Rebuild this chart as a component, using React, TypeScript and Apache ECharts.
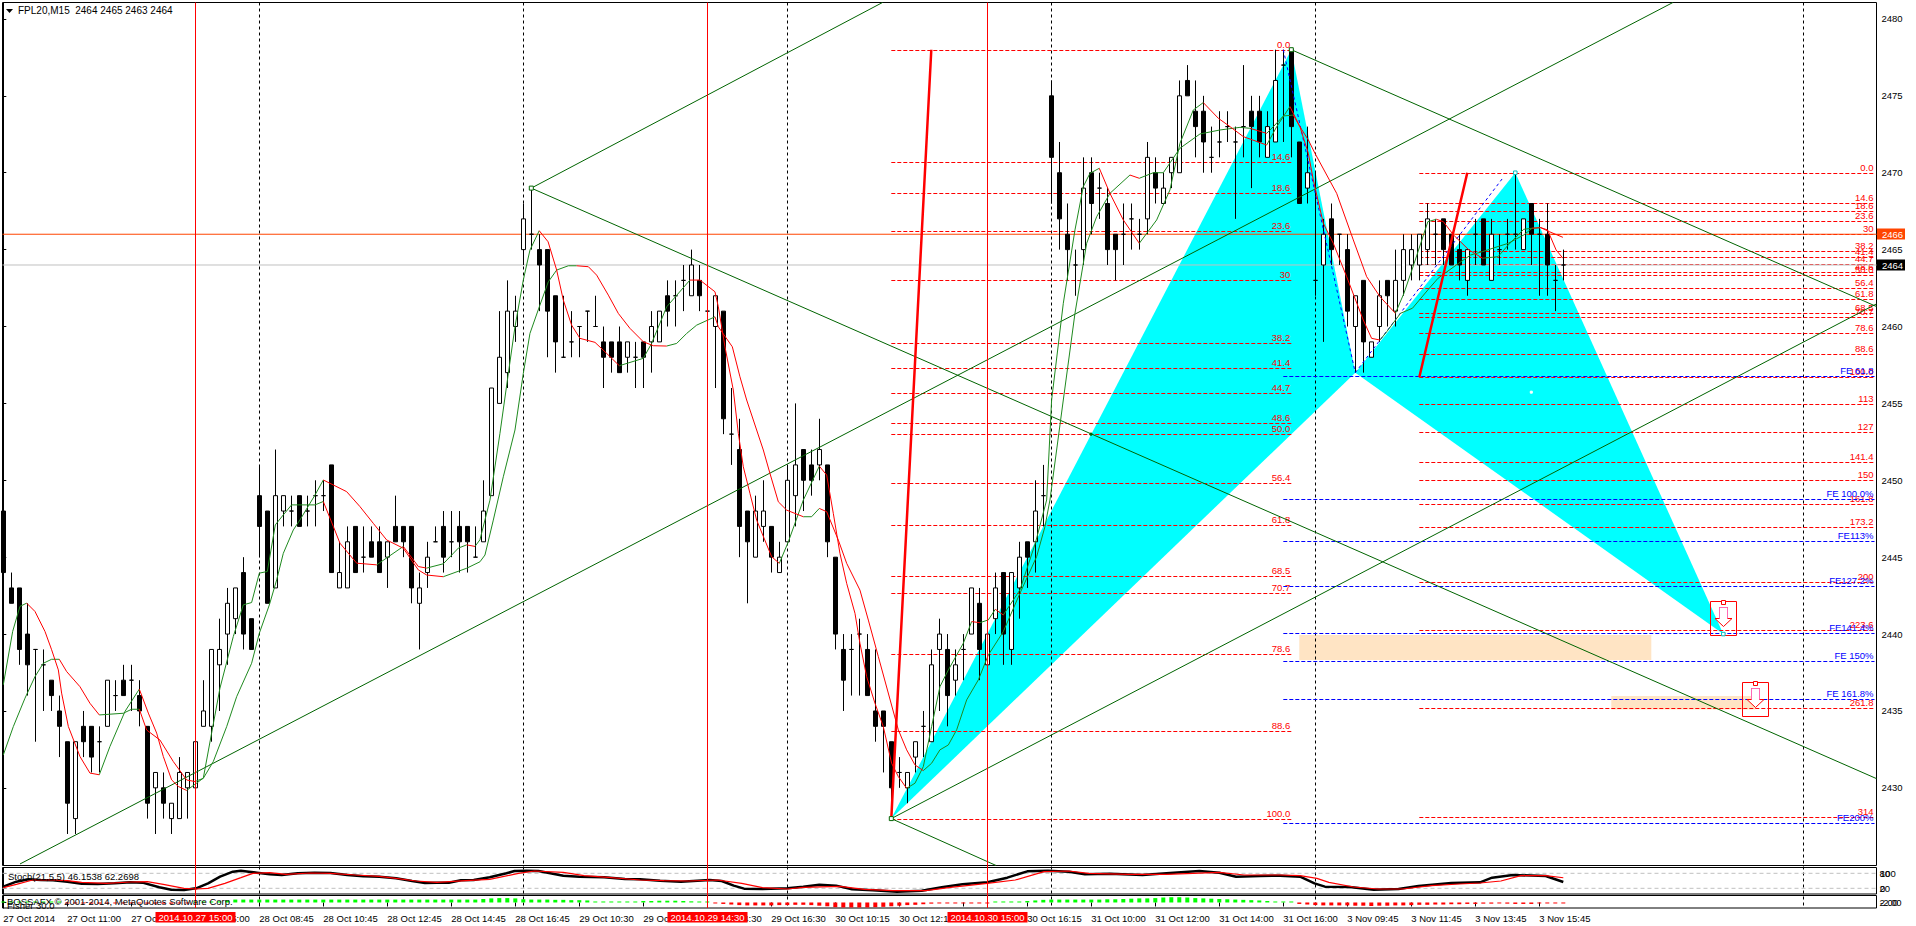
import React, { useEffect, useRef } from "react";
import * as echarts from "echarts";

const FONT = '"Liberation Sans", Arial, sans-serif';

// OHLC bars, index = bar number: [open, high, low, close]
const candles: number[][] = [
[2448,2448,2443,2444],[2443,2444,2442,2442],[2443,2443,2438,2439],[2440,2442,2436,2438],[2439,2439,2433,2439],[2438,2439,2435,2438],[2437,2437,2435,2436],[2435,2436,2432,2434],
[2433,2433,2427,2429],[2428,2433,2427,2433],[2434,2435,2432,2433],[2434,2434,2431,2432],[2433,2434,2431,2433],[2434,2437,2434,2437],[2436,2437,2435,2436],[2437,2438,2436,2436],
[2437,2438,2435,2437],[2436,2437,2434,2435],[2434,2434,2428,2429],[2430,2431,2427,2431],[2430,2431,2428,2429],[2428,2429,2427,2429],[2428,2432,2428,2431],[2430,2431,2428,2431],
[2430,2433,2430,2433],[2434,2437,2434,2435],[2434,2439,2433,2439],[2438,2441,2435,2439],[2440,2443,2438,2442],[2441,2443,2440,2443],[2444,2445,2439,2440],[2441,2441,2439,2439],
[2449,2451,2445,2447],[2448,2448,2442,2442],[2443,2452,2443,2449],[2448,2449,2447,2449],[2448,2449,2447,2448],[2449,2449,2447,2447],[2448,2449,2447,2448],[2449,2450,2447,2449],
[2449,2450,2448,2449],[2451,2451,2444,2444],[2443,2446,2443,2444],[2443,2447,2443,2446],[2447,2447,2444,2444],[2445,2447,2444,2445],[2446,2447,2445,2445],[2446,2447,2444,2444],
[2445,2446,2443,2446],[2447,2449,2446,2446],[2447,2447,2445,2446],[2447,2447,2442,2443],[2442,2444,2439,2443],[2444,2446,2443,2445],[2446,2447,2446,2446],[2447,2448,2444,2445],
[2446,2448,2445,2446],[2447,2448,2444,2446],[2447,2447,2444,2446],[2445,2447,2445,2445],[2446,2450,2446,2448],[2449,2456,2449,2456],[2455,2461,2455,2458],[2457,2463,2456,2461],
[2460,2462,2459,2461],[2465,2468,2464,2467],[2466,2469,2465,2466],[2465,2466,2461,2464],[2465,2465,2458,2461],[2462,2462,2457,2459],[2458,2462,2458,2458],[2459,2461,2458,2459],
[2460,2460,2458,2460],[2461,2461,2459,2461],[2460,2462,2460,2460],[2459,2460,2456,2458],[2459,2459,2457,2458],[2459,2460,2457,2457],[2458,2459,2457,2459],[2458,2459,2456,2458],
[2459,2459,2456,2458],[2459,2461,2457,2460],[2459,2461,2459,2461],[2462,2463,2460,2461],[2462,2463,2460,2462],[2463,2464,2461,2463],[2462,2465,2462,2464],[2463,2464,2461,2462],
[2461,2462,2461,2461],[2460,2462,2456,2462],[2461,2461,2453,2454],[2453,2456,2451,2453],[2452,2454,2445,2447],[2448,2448,2442,2446],[2445,2449,2445,2448],[2447,2450,2446,2448],
[2447,2447,2444,2445],[2444,2446,2444,2445],[2446,2451,2446,2450],[2449,2455,2447,2451],[2452,2452,2448,2450],[2451,2452,2449,2450],[2451,2454,2450,2452],[2451,2451,2445,2446],
[2445,2445,2439,2440],[2439,2440,2435,2437],[2439,2440,2436,2439],[2440,2441,2436,2440],[2439,2440,2436,2436],[2435,2439,2433,2434],[2435,2435,2431,2434],[2433,2433,2428,2430],
[2431,2432,2430,2431],[2430,2431,2429,2431],[2432,2433,2431,2433],[2434,2435,2432,2434],[2433,2439,2433,2438],[2439,2441,2435,2440],[2439,2440,2434,2436],[2437,2439,2436,2438],
[2439,2440,2437,2439],[2440,2443,2440,2443],[2442,2443,2437,2439],[2438,2440,2438,2440],[2441,2444,2440,2443],[2444,2444,2438,2440],[2439,2444,2438,2444],[2443,2446,2441,2445],
[2446,2446,2443,2445],[2446,2450,2444,2448],[2449,2451,2447,2449],[2475,2476,2468,2471],[2470,2472,2465,2467],[2466,2468,2463,2465],[2464,2465,2462,2464],[2465,2471,2464,2469],
[2470,2471,2466,2468],[2469,2470,2467,2469],[2468,2469,2464,2465],[2466,2466,2463,2465],[2466,2468,2464,2466],[2467,2468,2465,2467],[2466,2467,2465,2466],[2467,2472,2466,2471],
[2470,2471,2468,2469],[2468,2470,2468,2469],[2470,2471,2469,2471],[2470,2476,2470,2475],[2476,2477,2475,2475],[2474,2476,2471,2473],[2474,2475,2470,2472],[2471,2473,2470,2471],
[2472,2474,2471,2472],[2473,2474,2472,2473],[2472,2473,2467,2472],[2473,2477,2471,2473],[2474,2475,2469,2473],[2474,2475,2471,2472],[2471,2474,2471,2473],[2472,2478,2472,2476],
[2477,2478,2472,2477],[2478,2478,2471,2473],[2472,2472,2468,2468],[2469,2473,2468,2470],[2463,2470,2462,2463],[2464,2467,2459,2466],[2467,2468,2464,2465],[2466,2466,2464,2466],
[2465,2466,2460,2461],[2460,2462,2457,2462],[2463,2463,2457,2459],[2458,2459,2458,2459],[2460,2463,2459,2462],[2463,2463,2460,2462],[2461,2465,2460,2463],[2463,2466,2462,2465],
[2464,2466,2463,2465],[2464,2466,2463,2466],[2465,2468,2464,2467],[2466,2467,2464,2466],[2467,2467,2464,2465],[2466,2466,2464,2464],[2465,2466,2463,2464],[2463,2465,2462,2465],
[2466,2467,2464,2466],[2467,2467,2464,2464],[2463,2467,2463,2466],[2465,2466,2464,2465],[2466,2467,2465,2466],[2466,2470,2465,2466],[2465,2467,2465,2467],[2468,2468,2464,2466],
[2466,2467,2462,2466],[2466,2468,2462,2464],[2463,2464,2461,2463],[2464,2465,2463,2464],
];

// Two moving averages, read as knots [bar, price]; each run is green while rising, red while falling
const maFastGreen: number[][][] = [
[[0,2436.7],[1.17,2440.17],[2.08,2441.8],[2.92,2442.01]],
[[12,2430.85],[13.33,2432.69],[15.21,2434.97],[17,2436.42]],
[[22.92,2429.83],[25,2430.63],[26.04,2433.56],[27.08,2436.48],[28.75,2439.84],[30,2441.9],[31.04,2442.05],[32,2443.96],[33,2444.07],[34,2447.1],[35,2447.75],[36.04,2448.4],[38.96,2448.4],[40,2448.62]],
[[46.67,2444.5],[50,2445.7]],
[[52.92,2444.29],[55,2444.57],[56.88,2445.59],[57.92,2445.8]],
[[58.96,2445.7],[59.58,2446.13],[60.83,2448.71],[62.08,2453.05],[63.13,2456.95],[63.96,2459.98],[65,2463.02],[65.83,2464.97],[66.99,2466.23]],
[[77,2457.45],[80,2457.93],[81.04,2458.9],[82.92,2461.28],[85.83,2463.02]],
[[97,2444.6],[98.13,2446],[100,2448.71],[102,2450.92]],
[[112.92,2429.97],[113.96,2430.3],[115,2431.38],[116.04,2433.98],[117.08,2436.58],[118.13,2437.67],[120,2439.4],[121.04,2440.81]],
[[122.08,2440.74],[123.13,2440.92],[124,2441.61]],
[[125,2441.24],[127.08,2442.87],[129,2445.9],[130.42,2448.72],[131.04,2455.22],[132.5,2461.51],[133.96,2466.28],[135,2469.1],[135.83,2469.96],[137,2470.29]],
[[142,2465.41],[144.17,2466.93],[145.83,2468.88],[147.08,2471.91],[148.75,2474.08],[150,2474.56]],
[[157.92,2471.8],[159.17,2472.99],[160.83,2474.3]],
[[174.01,2460.86],[175.08,2462.16],[176.36,2464.11],[178.07,2466.82],[179.14,2466.97]],
[[184.91,2464.44],[186.83,2464.54],[188.12,2465.3],[190.04,2466.32],[191.11,2466.39]],
];
const maFastRed: number[][][] = [
[[2.92,2442.01],[3.96,2441.47],[5.21,2440.17],[6.04,2438.98],[6.88,2437.67],[7.29,2436.16],[8.13,2433.99],[9.58,2432.04],[10.83,2430.96],[12,2430.85]],
[[17,2436.42],[18.13,2434.86],[19.17,2433.56],[20,2432.04],[21.04,2430.52],[21.88,2430.09],[22.92,2429.83]],
[[40,2448.62],[41.25,2447],[42.08,2445.91],[44.17,2444.61],[46.67,2444.5]],
[[50,2445.7],[51.88,2444.39],[52.92,2444.29]],
[[57.92,2445.8],[58.96,2445.7]],
[[66.99,2466.23],[68.1,2465.51],[69.17,2463.67],[70,2461.72],[71.04,2460.09],[72.08,2459.23],[73.96,2458.97],[75.42,2458.25],[77,2457.45]],
[[85.83,2463.02],[87.08,2463.02],[88.96,2462.26],[89.38,2461.28],[90.21,2458.68],[91.25,2455.87],[91.88,2453.05],[92.5,2450.88],[93.33,2449.15],[94.17,2447.41],[96.04,2445.03],[97,2444.6]],
[[102,2450.92],[102.92,2450.34],[103.75,2447.85],[104.58,2445.25],[105.42,2443.3],[106.46,2441.35],[107.08,2439.4],[107.92,2437.23],[108.96,2435.5],[110,2433.98],[111.04,2431.6],[111.88,2430.73],[112.92,2429.97]],
[[121.04,2440.81],[122.08,2440.74]],
[[124,2441.61],[125,2441.24]],
[[137,2470.29],[138.33,2468.66],[140,2466.93],[142,2465.41]],
[[150,2474.56],[151.88,2473.54],[153.33,2473],[155,2472.35],[157.92,2471.8]],
[[160.83,2474.3],[162.08,2472.99],[163.13,2472.13],[163.96,2471.26],[166.67,2468.66],[168.75,2465.63],[170.42,2463.24],[172.08,2461.94],[174.01,2460.86]],
[[179.14,2466.97],[180,2466.82],[181.28,2465.95],[183.2,2464.98],[184.91,2464.44]],
[[191.11,2466.39],[192.18,2466.43],[193.24,2466.17],[194.95,2465.8]],
];
const maSlowGreen: number[][][] = [
[[0,2432.14],[1.25,2433.98],[2.71,2435.83],[3.96,2437.23],[5,2438.1],[6.04,2438.36],[7,2438.36]],
[[12,2434.74],[15,2434.85],[16.04,2435.11],[17,2435.11]],
[[23.96,2430.41],[25,2430.62],[26.25,2431.71],[27.92,2433.98],[29.17,2435.93],[31.04,2438.1],[32,2440.05],[33.25,2441.89],[34.17,2443.52],[35,2445.25],[36.25,2446.77],[37.08,2447.42],[38.96,2449.04],[40,2450.02]],
[[55,2443.73],[57.92,2444.28],[59.58,2444.7],[60.21,2445.14],[61.25,2447.41],[62.5,2450.23],[63.96,2453.27],[65,2456.95],[65.83,2459.55],[67,2461.28],[68.13,2462.91],[69.17,2463.67],[70.63,2463.95],[71.67,2463.95]],
[[82.92,2458.73],[84.17,2458.9],[85.42,2459.55],[86.67,2460.09],[88.96,2460.63]],
[[100,2447.63],[101.04,2447.63],[102,2448.17]],
[[115,2431.12],[116.04,2431.6],[117.08,2432.47],[118.13,2432.79],[119.17,2433.77],[120.42,2435.72],[121.88,2437.02],[123.13,2438.64],[125,2440.16],[127.08,2442.65],[129.17,2445.04],[130.21,2446.99],[130.83,2448.72],[132.5,2455.22],[133.96,2460.86],[135.42,2465.41],[136.67,2467.14],[138.33,2468.66],[140.83,2469.85]],
[[142,2469.64],[143.75,2470],[145,2470],[147.08,2471.59],[149.58,2472.52],[152.08,2472.78],[154.58,2472.95],[155.83,2472.89]],
[[157.92,2472.56],[158.75,2472.99],[160,2473.69],[161.25,2473.75]],
[[172.08,2459.12],[172.94,2459.67],[174.65,2460.86],[176.15,2461.19],[178.07,2462.38],[179.35,2463.14],[181.92,2464.11],[183.41,2464.65],[184.91,2464.87],[186.83,2465.2],[188.12,2465.41],[190.04,2465.95],[191.11,2466.39],[192.18,2466.43]],
];
const maSlowRed: number[][][] = [
[[7,2438.36],[7.92,2437.56],[9.58,2436.58],[10.83,2435.5],[12,2434.74]],
[[17,2435.11],[17.92,2433.76],[19.58,2433.11],[21.25,2431.71],[22.92,2430.51],[23.96,2430.41]],
[[40,2450.02],[42.92,2449.26],[44.58,2448.29],[46.25,2447.2],[47.92,2446.12],[50,2445.58],[51.88,2444.17],[52.92,2443.84],[55,2443.73]],
[[71.67,2463.95],[73.13,2463.89],[74.17,2463.34],[75.63,2462.04],[76.88,2460.85],[78.33,2459.88],[80,2459.01],[81.25,2458.75],[82.92,2458.73]],
[[88.96,2460.63],[89.38,2459.98],[91.13,2458.68],[92.08,2456.73],[92.92,2455.22],[95,2451.97],[95.83,2450.45],[96.88,2448.6],[97.92,2448.06],[100,2447.63]],
[[102,2448.17],[102.92,2447.96],[104.38,2446.11],[105.42,2444.6],[107.08,2442.86],[108.13,2440.91],[109.38,2438.53],[111.88,2433.77],[112.92,2432.47],[113.96,2431.49],[115,2431.12]],
[[140.83,2469.85],[142,2469.64]],
[[155.83,2472.89],[157.92,2472.56]],
[[161.25,2473.75],[162.08,2472.99],[163.13,2471.26],[163.75,2469.53],[165,2466.71],[166.25,2465.41],[167.92,2463.24],[170,2460.42],[171.04,2459.23],[172.08,2459.12]],
[[192.18,2466.43],[193.03,2466.28],[194.1,2464.98],[194.95,2464.44]],
];

// Harmonic pattern pivots [bar, price]
const triangles: number[][][] = [
  [[111, 2428], [161, 2478], [169, 2457]],
  [[169, 2457], [189, 2470], [215, 2440]],
];
const patternLegs: number[][][] = [
  [[160, 2478], [169, 2457]],
  [[169, 2457], [187.5, 2469.7]],
];
const boldFibLegs: number[][][] = [
  [[111, 2428], [116, 2478]],
  [[177, 2456.7], [183, 2470]],
];
const trendLines: number[][][] = [
  [[2.09, 2425.05], [208.7, 2481.07]],
  [[111, 2428], [234.15, 2461.47]],
  [[66, 2469], [109.9, 2481.07]],
  [[66, 2469], [234.15, 2430.6]],
  [[161, 2478], [234.15, 2461.3]],
  [[111, 2428], [124.1, 2424.95]],
];
// Peach zones [fromBar, toBar, topPrice, bottomPrice]
const zones: number[][] = [
  [162, 206, 2439.94, 2438.32],
  [201, 219, 2435.97, 2435.1],
];
// Sell arrows [bar, price at top of the box]
const sellArrows: number[][] = [[215, 2442.13], [219, 2436.87]];

// Left Fibonacci retracement
const fibLeftLabels = ["0.0","14.6","18.6","23.6","30","38.2","41.4","44.7","48.6","50.0","56.4","61.8","68.5","70.7","78.6","88.6","100.0"];
const fibLeftPrices = [2478,2470.7,2468.7,2466.2,2463,2458.9,2457.3,2455.65,2453.7,2453,2449.8,2447.1,2443.75,2442.65,2438.7,2433.7,2428];
// Right Fibonacci retracement / extension
const fibRightLabels = ["0.0","14.6","18.6","23.6","30","38.2","41.4","44.7","48.6","50.0","56.4","61.8","68.5","70.7","78.6","88.6","100.0","113","127","141.4","150","161.8","173.2","200","223.6","261.8","314"];
const fibRightPrices = [2470,2468.06,2467.53,2466.86,2466.01,2464.92,2464.49,2464.05,2463.54,2463.35,2462.5,2461.78,2460.89,2460.6,2459.55,2458.22,2456.7,2454.97,2453.11,2451.19,2450.05,2448.48,2446.96,2443.4,2440.26,2435.18,2428.09];
// Fibonacci expansion
const feLabels = ["FE 61.8","FE 100.0%","FE113%","FE127.2%","FE141.4%","FE 150%","FE 161.8%","FE200%"];
const fePrices = [2456.8,2448.76,2446.03,2443.11,2440.05,2438.23,2435.76,2427.7];

const yTicks = [2430,2435,2440,2445,2450,2455,2460,2465,2470,2475,2480];
const timeTicks = [0,8,16,24,32,40,48,56,64,72,80,88,96,104,112,120,128,136,144,152,160,168,176,184,192];
const timeLabels = ["27 Oct 2014","27 Oct 11:00","27 Oct 13:00","27 Oct 15:00","28 Oct 08:45","28 Oct 10:45","28 Oct 12:45","28 Oct 14:45","28 Oct 16:45","29 Oct 10:30","29 Oct 12:30","29 Oct 14:30","29 Oct 16:30","30 Oct 10:15","30 Oct 12:15","30 Oct 14:15","30 Oct 16:15","31 Oct 10:00","31 Oct 12:00","31 Oct 14:00","31 Oct 16:00","3 Nov 09:45","3 Nov 11:45","3 Nov 13:45","3 Nov 15:45"];
const daySeparators = [32, 65, 98, 131, 164, 225];
const redMarkers = [24, 88, 123];
const redMarkerLabels = ["2014.10.27 15:00", "2014.10.29 14:30", "2014.10.30 15:00"];
const priceTags = [2466, 2464];

const stochMain: number[][] = [
[0,26.5],[1.63,46.6],[3.16,55.9],[4.69,53.2],[6.22,51.9],[8,46.6],[9.8,38.5],[11.8,37.2],[13.9,39.9],[15.9,43.9],[17.4,42.6],[19.5,23.9],[21,14.5],[22.6,13.2],[24.1,19.9],[25.6,39.9],[27.1,66.5],[28.7,86.5],[29.7,90.5],[30.7,86.5],[31.7,82.5],[33.3,75.9],[34.8,73.2],[36.8,79.9],[38.9,82.5],[40.9,81.2],[43,73.2],[45,67.9],[47,66.5],[49.1,59.9],[51.1,49.2],[52.7,41.2],[54.2,42.6],[55.7,42.6],[57.2,51.9],[58.8,53.2],[60.8,63.9],[62.9,79.9],[63.9,89.2],[65.4,90.5],[66.9,89.2],[70,70.5],[72,66.5],[75.1,63.9],[77.7,57.2],[79.6,55.9],
[82.1,50.6],[84.7,46.6],[88.3,53.2],[89.8,49.2],[91.3,30.6],[92.6,18.6],[94.9,17.2],[98,19.9],[100,26.5],[102,34.6],[104.1,30.6],[106.1,15.9],[108.7,11.9],[111.7,6.6],[114.8,10.6],[117.3,23.9],[119.9,35.9],[123,43.9],[125.5,62.5],[128,87.9],[130.6,90.5],[133.2,86.5],[135.2,75.9],[138.3,78.6],[142.4,73.2],[145.4,79.9],[149.5,89.2],[152,82.5],[154.1,66.5],[157.1,69.2],[159.6,70.5],
[162.1,66.5],[163.9,39.9],[165.2,26.5],[168.3,25.2],[171.3,14.5],[174.4,17.2],[176.9,29.2],[181,41.2],[184.6,43.9],[186.1,62.5],[188.7,73.2],[192.8,69.2],[195,45.2],
];
const stochSignal: number[][] = [
[0,22.6],[1.63,35.9],[3.67,53.2],[6.2,53.2],[8,50.6],[9.8,43.9],[12.9,39.9],[15.9,45.2],[18,46.6],[20,35.9],[22.6,19.9],[24.1,17.2],[25.6,19.9],[27.7,39.9],[29.7,62.5],[31.2,79.9],[33.3,82.5],[35.3,75.9],[38.4,81.2],[40.9,79.9],[44,73.2],[47,67.9],[49.1,59.9],[51.6,49.2],[54.2,43.9],[57.8,50.6],[60.8,55.9],[64.4,79.9],[66.4,89.2],[70,83.9],[72.6,70.5],[75.6,63.9],[79.6,53.2],
[82.6,50.6],[85.7,49.2],[89.3,53.2],[92.3,39.9],[94.9,22.6],[98,17.2],[100,23.9],[104.6,27.9],[107.6,15.9],[111.2,10.6],[115.3,10.6],[118.4,23.9],[123,39.9],[126.5,53.2],[130.1,86.5],[133.2,89.2],[135.7,79.9],[140.8,75.9],[145.4,75.9],[152,83.9],[155.1,73.2],[159.6,73.2],
[162.1,70.5],[164.2,59.9],[165.7,43.9],[168.8,25.2],[171.8,17.2],[174.9,17.2],[178.5,30.6],[182,37.2],[184.6,41.2],[187.2,49.2],[189.7,70.5],[192.8,70.5],[195,62.3],
];
const stochLevels = [80, 20];

// Fisher histogram, one value per bar
const fisherValues = [
0.3,0.3,0.2,0.2,0.2,0.1,0.1,0.1,
-0.2,-0.3,-0.3,-0.4,-0.4,-0.4,-0.3,-0.3,-0.3,-0.3,-0.4,-0.4,-0.4,-0.4,-0.3,-0.2,
0.1,0.2,0.3,0.4,0.7,
1,1,1,1,1,1,1,1,1,1,1,1,1,1,1,1,1,1,1,1,1,1,1,1,1,1,1,1,1,1,1,
1.2,1.4,1.5,1.5,1.4,
1.1,1,1,1,0.9,0.9,0.8,0.8,0.7,
0.3,0.3,0.3,0.3,0.3,0.3,
0.5,0.5,0.6,0.6,0.6,0.5,0.4,0.2,0.1,
-0.2,-0.5,-0.7,-0.9,-1,-1,-1,-1,-0.9,-0.9,-0.8,-0.8,-0.9,-1.1,-1.3,-1.6,-1.7,-1.7,-1.7,-1.7,-1.6,-1.5,-1.3,-1.1,-0.9,-0.8,-0.6,-0.4,-0.3,-0.3,-0.2,-0.2,-0.1,-0.1,-0.1,
0.1,0.1,0.2,0.3,0.5,0.7,0.9,1,1,1,1,1,1,1,1.1,1.1,1.2,1.3,1.4,1.4,1.5,1.7,1.8,1.8,1.7,1.5,1.4,1.3,1.2,1.1,1,0.9,0.8,0.7,0.5,0.3,0.2,0.1,
-0.5,-0.7,-0.9,-1,-1,-1,-1,-1.1,-1.1,-1.2,-1.1,-1.1,-1,-1,-0.9,-0.8,-0.8,-0.7,-0.7,-0.6,-0.6,-0.5,-0.5,-0.4,-0.4,-0.3,-0.4,-0.5,-0.5,-0.5,-0.3,-0.3,-0.2,-0.2,
];

const LEFT = 2.5, RIGHT = 1876.5;
const X_MIN = -0.1, X_MAX = 234.15;
const Y_MAX = 2481.07, Y_MIN = 2424.95;

const flatten = (runs: number[][][]) => {
  const out: any[] = [];
  runs.forEach((r, k) => {
    if (k) out.push(["-", "-"]);
    r.forEach((p) => out.push(p));
  });
  return out;
};

const hLines = (name: string, from: number, to: number, prices: number[], labels: string[], color: string, z: number) => ({
  type: "custom", name, xAxisIndex: 0, yAxisIndex: 0, z, clip: false,
  data: prices.map((p) => [from, to, p]),
  encode: { x: [0, 1], y: 2 },
  renderItem: (params: any, api: any) => {
    const a = api.coord([api.value(0), api.value(2)]);
    const b = api.coord([api.value(1), api.value(2)]);
    const y = Math.round(a[1]) + 0.5;
    return {
      type: "group",
      children: [
        { type: "line", shape: { x1: a[0], y1: y, x2: b[0], y2: y }, style: { stroke: color, lineWidth: 1, lineDash: [4, 2] } },
        { type: "text", x: b[0] - 1, y: y - 1, style: { text: labels[params.dataIndex], fill: color, align: "right", verticalAlign: "bottom", font: `9.5px ${FONT}` } },
      ],
    };
  },
});

const lineSeries = (name: string, data: any[], color: string, width: number, z: number, dash?: number[], x = 0) => ({
  type: "line", name, xAxisIndex: x, yAxisIndex: x, z, data, showSymbol: false, symbol: "none", animation: false,
  lineStyle: { color, width, type: dash || "solid" }, connectNulls: false,
});

const marker = (name: string, data: number[][], stroke: string, fill: string, size: number) => ({
  type: "scatter", name, xAxisIndex: 0, yAxisIndex: 0, z: 8, symbol: "rect", symbolSize: size, data,
  itemStyle: { color: fill, borderColor: stroke, borderWidth: 1, opacity: 1 },
});

const arrowRender = (_p: any, api: any) => {
  const c = api.coord([api.value(0), api.value(1)]);
  const x = Math.round(c[0]) + 0.5, y = Math.round(c[1]) + 0.5;
  return {
    type: "group",
    children: [
      { type: "rect", shape: { x: x - 13, y, width: 26, height: 34 }, style: { fill: "none", stroke: "#ff0000", lineWidth: 1 } },
      { type: "rect", shape: { x: x - 2, y: y - 1, width: 4, height: 4 }, style: { fill: "#fff", stroke: "#ff0000", lineWidth: 1 } },
      { type: "polygon", shape: { points: [[x - 4, y + 6], [x + 4, y + 6], [x + 4, y + 17], [x + 8.5, y + 17], [x, y + 25], [x - 8.5, y + 17], [x - 4, y + 17]] }, style: { fill: "#fff", stroke: "#ff0000", lineWidth: 1 } },
      { type: "polyline", shape: { points: [[x - 4, y + 17], [x - 4, y + 6], [x + 4, y + 6], [x + 4, y + 17]] }, style: { fill: "none", stroke: "#ff69b4", lineWidth: 1 } },
    ],
  };
};

export default function App() {
  const ref = useRef<HTMLDivElement>(null);
  useEffect(() => {
    document.body.style.margin = "0";
    document.body.style.overflow = "hidden";
    document.body.style.background = "#fff";
    const chart = echarts.init(ref.current!, undefined, { renderer: "svg", width: 1916, height: 926 });
    const axisFont = { fontFamily: FONT, fontSize: 9.5, color: "#000" };
    const hiddenX = (gridIndex: number) => ({ type: "value", gridIndex, min: X_MIN, max: X_MAX, show: false, splitLine: { show: false } });
    const gridBase = { show: true, left: LEFT, width: RIGHT - LEFT, borderColor: "#000", borderWidth: 1, backgroundColor: "#fff" };
    const option: any = {
      animation: false,
      backgroundColor: "#fff",
      grid: [
        { ...gridBase, top: 2.5, height: 863 },
        { ...gridBase, top: 867.5, height: 26.5 },
        { ...gridBase, top: 895.5, height: 12.5 },
      ],
      xAxis: [
        hiddenX(0),
        hiddenX(1),
        {
          type: "value", gridIndex: 2, min: X_MIN, max: X_MAX, splitLine: { show: false },
          axisLine: { show: false },
          axisTick: { show: true, length: 4, lineStyle: { color: "#000" }, customValues: timeTicks },
          axisLabel: {
            show: true, ...axisFont, align: "left", margin: 5, customValues: timeTicks,
            formatter: (v: number) => timeLabels[timeTicks.indexOf(v)] ?? "",
          },
        },
      ],
      yAxis: [
        {
          type: "value", gridIndex: 0, position: "right", min: Y_MIN, max: Y_MAX, splitLine: { show: false },
          axisLine: { show: true, lineStyle: { color: "#000" } },
          axisTick: { show: true, length: 3, lineStyle: { color: "#000" }, customValues: yTicks },
          axisLabel: { show: true, ...axisFont, margin: 5, customValues: yTicks, formatter: (v: number) => String(v) },
        },
        {
          type: "value", gridIndex: 1, position: "right", min: -2.8, max: 103.2, splitLine: { show: false },
          axisLine: { show: true, lineStyle: { color: "#000" } },
          axisTick: { show: true, length: 3, lineStyle: { color: "#000" }, customValues: stochLevels },
          axisLabel: { show: true, ...axisFont, margin: 3, customValues: stochLevels, formatter: (v: number) => String(v) },
        },
        {
          type: "value", gridIndex: 2, position: "right", min: -1.89, max: 2.39, splitLine: { show: false },
          axisLine: { show: true, lineStyle: { color: "#000" } },
          axisTick: { show: true, length: 3, lineStyle: { color: "#000" }, customValues: [0] },
          axisLabel: { show: true, ...axisFont, margin: 3, customValues: [0], formatter: () => "2.00" },
        },
      ],
      graphic: [
        { type: "polygon", z: 20, shape: { points: [[6, 9], [13, 9], [9.5, 13]] }, style: { fill: "#000" } },
        { type: "text", z: 20, x: 18, y: 5, style: { text: "FPL20,M15  2464 2465 2463 2464", fill: "#000", font: `10px ${FONT}` } },
        { type: "text", z: 20, x: 8, y: 871, style: { text: "Stoch(21,5,5) 46.1538 62.2698", fill: "#000", font: `9.5px ${FONT}` } },
        { type: "text", z: 20, x: 7, y: 896, style: { text: "BOSSAFX © 2001-2014, MetaQuotes Software Corp.", fill: "#000", font: `9.5px ${FONT}` } },
        { type: "text", z: 20, x: 7, y: 900, style: { text: "Fisher 30.0", fill: "#000", font: `9.5px ${FONT}` } },
        { type: "text", z: 20, x: 1880, y: 868, style: { text: "100", fill: "#000", font: `9.5px ${FONT}` } },
        { type: "text", z: 20, x: 1880, y: 883, style: { text: "0", fill: "#000", font: `9.5px ${FONT}` } },
        { type: "text", z: 20, x: 1880, y: 897, style: { text: "-2.00", fill: "#000", font: `9.5px ${FONT}` } },
      ],
      series: [
        {
          type: "custom", name: "Pattern", xAxisIndex: 0, yAxisIndex: 0, z: 1, clip: true,
          data: triangles.map((t) => t[0]),
          renderItem: (p: any, api: any) => ({
            type: "polygon",
            shape: { points: triangles[p.dataIndex].map((q) => api.coord(q)) },
            style: { fill: "#00ffff" },
          }),
        },
        {
          type: "custom", name: "Zones", xAxisIndex: 0, yAxisIndex: 0, z: 1,
          data: zones,
          encode: { x: [0, 1], y: [2, 3] },
          renderItem: (_p: any, api: any) => {
            const a = api.coord([api.value(0), api.value(2)]);
            const b = api.coord([api.value(1), api.value(3)]);
            return { type: "rect", shape: { x: a[0], y: a[1], width: b[0] - a[0], height: b[1] - a[1] }, style: { fill: "#ffe4c4" } };
          },
        },
        {
          type: "custom", name: "Day separators", xAxisIndex: 0, yAxisIndex: 0, z: 2, clip: false,
          data: daySeparators.map((i) => [i, 2450]),
          renderItem: (p: any, api: any) => {
            const x = Math.round(api.coord([api.value(0), 2450])[0]) + 0.5;
            return {
              type: "line",
              shape: { x1: x, y1: p.coordSys.y, x2: x, y2: p.coordSys.y + p.coordSys.height + 42.5 },
              style: { stroke: "#000", lineWidth: 1, lineDash: [3, 3] },
            };
          },
        },
        lineSeries("Bid", [[X_MIN, 2466], [X_MAX, 2466]], "#ff4500", 1, 2),
        lineSeries("Last", [[X_MIN, 2464], [X_MAX, 2464]], "#c0c0c0", 1, 2),
        hLines("Fib left", 111, 161, fibLeftPrices, fibLeftLabels, "#ff0000", 2),
        hLines("Fib right", 177, 233.9, fibRightPrices, fibRightLabels, "#ff0000", 2),
        hLines("FE", 160, 233.9, fePrices, feLabels, "#0000ff", 2),
        {
          type: "candlestick", name: "FPL20,M15", xAxisIndex: 0, yAxisIndex: 0, z: 3, barWidth: 4,
          data: candles.map((c, i) => [i, c[0], c[3], c[2], c[1]]),
          itemStyle: { color: "#ffffff", color0: "#000000", borderColor: "#000000", borderColor0: "#000000", borderColorDoji: "#000000", borderWidth: 1 },
        },
        lineSeries("Trend", flatten(trendLines), "#006400", 1, 4),
        lineSeries("Pattern legs", flatten(patternLegs), "#0000ff", 1, 4, [3, 3]),
        lineSeries("Fast MA up", flatten(maFastGreen), "#1f8a1f", 1, 5),
        lineSeries("Slow MA up", flatten(maSlowGreen), "#1f8a1f", 1, 5),
        lineSeries("Fast MA down", flatten(maFastRed), "#ff0000", 1, 5),
        lineSeries("Slow MA down", flatten(maSlowRed), "#ff0000", 1, 5),
        lineSeries("Fib trend", flatten(boldFibLegs), "#ff0000", 2.5, 6),
        {
          type: "custom", name: "Markers", xAxisIndex: 0, yAxisIndex: 0, z: 6, clip: false,
          data: redMarkers.map((i) => [i, 2450]),
          renderItem: (p: any, api: any) => {
            const x = Math.round(api.coord([api.value(0), 2450])[0]) + 0.5;
            const top = p.coordSys.y;
            const bottom = top + p.coordSys.height;
            return {
              type: "group",
              children: [
                { type: "line", shape: { x1: x, y1: top, x2: x, y2: bottom + 42.5 }, style: { stroke: "#ff0000", lineWidth: 1 } },
                { type: "rect", shape: { x: x - 40, y: bottom + 46.5, width: 80, height: 10.5 }, style: { fill: "#ff0000" } },
                { type: "text", x, y: bottom + 52, style: { text: redMarkerLabels[p.dataIndex], fill: "#fff", align: "center", verticalAlign: "middle", font: `9.5px ${FONT}` } },
              ],
            };
          },
        },
        marker("Pitchfork anchors", [[66, 2469], [111, 2428], [161, 2478]], "#006400", "#ffffff", 4),
        marker("Pitchfork mid", [[135.96, 2453]], "#006400", "#006400", 2),
        marker("Pattern anchors", [[189, 2470], [215, 2440]], "#00c0c0", "#ffffff", 3.5),
        marker("Centre", [[191, 2455.73]], "#ffffff", "#ffffff", 2),
        { type: "custom", name: "Sell arrows", xAxisIndex: 0, yAxisIndex: 0, z: 7, clip: false, data: sellArrows, renderItem: arrowRender },
        {
          type: "custom", name: "Price tags", xAxisIndex: 0, yAxisIndex: 0, z: 9, clip: false,
          data: priceTags.map((v) => [X_MAX, v]),
          renderItem: (p: any, api: any) => {
            const y = Math.round(api.coord([X_MAX, api.value(1)])[1]);
            const x = p.coordSys.x + p.coordSys.width + 0.5;
            const bg = p.dataIndex === 0 ? "#ff4500" : "#000000";
            return {
              type: "group",
              children: [
                { type: "rect", shape: { x, y: y - 5.5, width: 28, height: 11 }, style: { fill: bg } },
                { type: "text", x: x + 5, y: y + 0.5, style: { text: String(priceTags[p.dataIndex]), fill: "#fff", align: "left", verticalAlign: "middle", font: `9.5px ${FONT}` } },
              ],
            };
          },
        },
        ...stochLevels.map((lv) => lineSeries(`Level ${lv}`, [[X_MIN, lv], [X_MAX, lv]], "#c0c0c0", 1, 2, [4, 3], 1)),
        lineSeries("Stoch", stochMain, "#000000", 2.5, 3, undefined, 1),
        lineSeries("Signal", stochSignal, "#ff0000", 1.2, 4, undefined, 1),
        {
          type: "bar", name: "Fisher", xAxisIndex: 2, yAxisIndex: 2, z: 3, barWidth: 4, barMinHeight: 1,
          data: fisherValues.map((v, i) => [i, v]),
          itemStyle: { color: (p: any) => (p.value[1] >= 0 ? "#00ff00" : "#ff0000") },
        },
      ],
    };
    chart.setOption(option);
    return () => chart.dispose();
  }, []);
  return <div ref={ref} style={{ width: 1916, height: 926 }} />;
}
